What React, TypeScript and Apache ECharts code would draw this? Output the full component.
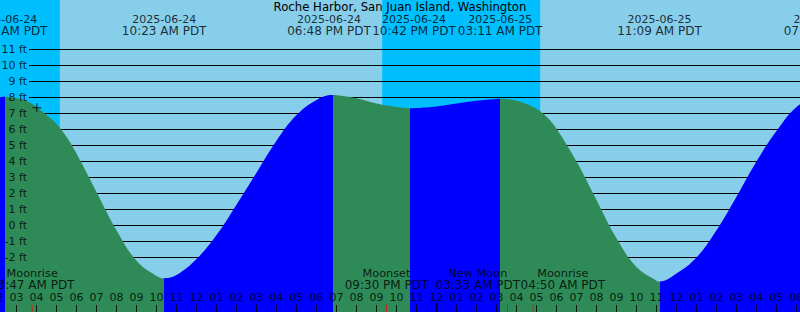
import React, { useEffect, useRef } from "react";
import * as echarts from "echarts";

const WIDTH = 800;
const HEIGHT = 312;
const FONT = "DejaVu Sans";
const STATION = "Roche Harbor, San Juan Island, Washington";
const YEAR = "2025";

// hours since 2025-06-24 00:00 PDT
const X_MIN = 2.175;
const X_MAX = 42.175;
const Y_MIN = -5.406;
const Y_MAX = 14.094;

const FLOOD = "#0000FF";
const EBB = "#2E8B57";
const DAY = "#87CEEB";
const NIGHT = "#00BFFF";

// tide curve (hours, feet)
const tideHours = [1.5, 2, 2.43, 3, 3.5, 4, 4.5, 5, 5.5, 6, 7, 8, 9, 10, 10.38, 11, 12, 13, 14, 15, 16, 17, 18, 18.8, 19, 20, 21, 22, 22.7, 23, 24, 25, 26, 27, 27.18, 28, 28.5, 29, 29.5, 30, 31, 32, 33, 34, 35, 35.15, 36, 37, 38, 39, 40, 41, 42, 43, 43.45];
const tideFeet = [7.7, 7.98, 8.05, 7.95, 7.8, 7.4, 6.9, 6.35, 5.55, 4.5, 2.1, -0.3, -2.2, -3.15, -3.3, -3.1, -2.1, -0.6, 1.3, 3.3, 5.3, 6.9, 7.85, 8.15, 8.14, 7.95, 7.62, 7.4, 7.33, 7.34, 7.44, 7.62, 7.8, 7.91, 7.92, 7.8, 7.6, 7.3, 6.8, 6.05, 4.0, 1.6, -0.8, -2.6, -3.45, -3.5, -3.0, -2.0, -0.3, 1.8, 4.0, 5.9, 7.4, 8.1, 8.2];

// high / low tides
const extremeStamps = ["06-24 02:26", "06-24 10:23", "06-24 18:48", "06-24 22:42", "06-25 03:11", "06-25 11:09", "06-25 19:27"];
const extremeKinds = ["high", "low", "high", "low", "high", "low", "high"];

// moon events
const moonEvents = ["Moonrise", "Moonset", "New Moon", "Moonrise"];
const moonStamps = ["06-24 03:47", "06-24 21:30", "06-25 03:33", "06-25 04:50"];

// night (sunset -> sunrise)
const nightStarts = ["06-24 00:00", "06-24 21:17"];
const nightEnds = ["06-24 05:10", "06-25 05:11"];

// level lines / labels (ft)
const levelTicks = [-2, -1, 0, 1, 2, 3, 4, 5, 6, 7, 8, 9, 10, 11];

// hour ticks
const hourTicks: number[] = [];
for (let h = 2; h <= 42; h++) hourTicks.push(h);

// "+" mark
const markStamp = "06-24 04:01";
const markFeet = 7.36;

const toHours = (s: string) => {
  const [md, hm] = s.split(" ");
  const day = parseInt(md.split("-")[1], 10) - 24;
  const [hh, mm] = hm.split(":").map((v) => parseInt(v, 10));
  return day * 24 + hh + mm / 60;
};
const fmtTime = (s: string) => {
  const hm = s.split(" ")[1];
  const [hh, mm] = hm.split(":").map((v) => parseInt(v, 10));
  const ap = hh < 12 ? "AM" : "PM";
  const h12 = hh % 12 === 0 ? 12 : hh % 12;
  return `${String(h12).padStart(2, "0")}:${String(mm).padStart(2, "0")} ${ap} PDT`;
};
const fmtDate = (s: string) => `${YEAR}-${s.split(" ")[0]}`;
const hourLabel = (h: number) => {
  const hh = ((h % 24) + 24) % 24;
  const h12 = hh % 12 === 0 ? 12 : hh % 12;
  return String(h12).padStart(2, "0");
};

const PX_PER_HOUR = WIDTH / (X_MAX - X_MIN);
const LABEL_W = 85;
// push overlapping adjacent labels apart symmetrically (in hours)
const spread = (hours: number[]) => {
  const out = hours.slice();
  const need = LABEL_W / PX_PER_HOUR;
  for (let i = 0; i < out.length - 1; i++) {
    const d = out[i + 1] - out[i];
    if (d < need) {
      const half = (need - d) / 2;
      out[i] -= half;
      out[i + 1] += half;
    }
  }
  return out;
};

export default function App() {
  const ref = useRef<HTMLDivElement>(null);
  useEffect(() => {
    if (!ref.current) return;
    document.body.style.margin = "0";
    const chart = echarts.init(ref.current, undefined, { renderer: "svg" });

    const exHours = extremeStamps.map(toHours);
    const exLabelHours = spread(exHours);
    const moonHours = moonStamps.map(toHours);
    const moonLabelHours = spread(moonHours);

    const pieces: any[] = [];
    pieces.push({ lt: exHours[0], color: extremeKinds[0] === "high" ? FLOOD : EBB });
    for (let i = 0; i < exHours.length - 1; i++) {
      pieces.push({ gte: exHours[i], lt: exHours[i + 1], color: extremeKinds[i + 1] === "high" ? FLOOD : EBB });
    }
    pieces.push({ gte: exHours[exHours.length - 1], color: extremeKinds[exHours.length - 1] === "high" ? EBB : FLOOD });

    const clampX = (v: number) => Math.min(X_MAX, Math.max(X_MIN, v));
    const lineStart = X_MIN + 29 / PX_PER_HOUR;

    const txt = { color: "#000", fontFamily: FONT };

    chart.setOption({
      animation: false,
      backgroundColor: DAY,
      title: {
        text: STATION,
        left: "center",
        top: 1,
        padding: 0,
        textStyle: { ...txt, fontSize: 11.7, fontWeight: "normal", lineHeight: 12 },
      },
      grid: { left: 0, right: 0, top: 0, bottom: 0, containLabel: false },
      xAxis: { type: "value", min: X_MIN, max: X_MAX, show: false },
      yAxis: { type: "value", min: Y_MIN, max: Y_MAX, show: false },
      visualMap: { type: "piecewise", show: false, dimension: 0, seriesIndex: 0, pieces },
      series: [
        {
          type: "line",
          data: tideHours.map((t, i) => [t, tideFeet[i]]),
          smooth: 0.4,
          symbol: "none",
          silent: true,
          z: 3,
          lineStyle: { width: 0 },
          areaStyle: { opacity: 1, origin: "start" },
          markArea: {
            silent: true,
            z: 1,
            itemStyle: { color: NIGHT, opacity: 1, borderWidth: 0 },
            label: { show: false },
            data: nightStarts.map((s, i) => [
              { xAxis: clampX(toHours(s)) },
              { xAxis: clampX(toHours(nightEnds[i])) },
            ]),
          },
          markLine: {
            silent: true,
            z: 2,
            symbol: ["none", "none"],
            label: { show: false },
            lineStyle: { color: "#000", width: 1, type: "solid", opacity: 1 },
            data: levelTicks.map((v) => [{ coord: [lineStart, v] }, { coord: [X_MAX, v] }]),
          },
        },
        {
          // level labels
          type: "scatter",
          clip: false,
          silent: true,
          z: 10,
          symbolSize: 0,
          itemStyle: { color: "rgba(0,0,0,0)" },
          data: levelTicks.map((v) => [X_MIN, v]),
          label: {
            show: true,
            position: [27, 0],
            align: "right",
            verticalAlign: "middle",
            ...txt,
            fontSize: 11,
            formatter: (p: any) => `${p.value[1]} ft`,
          },
        },
        {
          // hour labels
          type: "scatter",
          clip: false,
          silent: true,
          z: 10,
          symbolSize: 0,
          itemStyle: { color: "rgba(0,0,0,0)" },
          data: hourTicks.map((h) => [h, Y_MIN]),
          label: {
            show: true,
            position: "inside",
            offset: [0, -14.5],
            ...txt,
            fontSize: 11,
            formatter: (p: any) => hourLabel(p.value[0]),
          },
        },
        {
          // hour ticks
          type: "scatter",
          clip: false,
          silent: true,
          z: 10,
          symbol: "rect",
          itemStyle: { color: "#000" },
          data: hourTicks.map((h) =>
            h % 24 === 0
              ? { value: [h, Y_MIN], symbolSize: [2, 9], symbolOffset: [0, -4.5] }
              : { value: [h, Y_MIN], symbolSize: [1, 7], symbolOffset: [0, -3.5] }
          ),
        },
        {
          // moon event ticks
          type: "scatter",
          clip: false,
          silent: true,
          z: 11,
          symbol: "rect",
          symbolSize: [1, 7],
          symbolOffset: [0, -3.5],
          itemStyle: { color: "#FF0000" },
          data: moonHours.map((h) => [h, Y_MIN]),
        },
        {
          // moon event labels
          type: "scatter",
          clip: false,
          silent: true,
          z: 10,
          symbolSize: 0,
          itemStyle: { color: "rgba(0,0,0,0)" },
          data: moonLabelHours.map((h, i) => ({ value: [h, Y_MIN], name: moonEvents[i], stamp: moonStamps[i] })),
          label: {
            show: true,
            position: "inside",
            offset: [0, -33],
            ...txt,
            formatter: (p: any) => `{a|${moonEvents[p.dataIndex]}}\n{b|${fmtTime(moonStamps[p.dataIndex])}}`,
            rich: {
              a: { ...txt, fontSize: 11.3, lineHeight: 12 },
              b: { ...txt, fontSize: 12, lineHeight: 12 },
            },
          },
        },
        {
          // high/low labels
          type: "scatter",
          clip: false,
          silent: true,
          z: 10,
          symbolSize: 0,
          itemStyle: { color: "rgba(0,0,0,0)" },
          data: exLabelHours.map((h) => [h, Y_MAX]),
          label: {
            show: true,
            position: "inside",
            offset: [0, 25],
            ...txt,
            formatter: (p: any) => `{a|${fmtDate(extremeStamps[p.dataIndex])}}\n{b|${fmtTime(extremeStamps[p.dataIndex])}}`,
            rich: {
              a: { ...txt, fontSize: 11, lineHeight: 12 },
              b: { ...txt, fontSize: 12, lineHeight: 12 },
            },
          },
        },
        {
          // "+" mark
          type: "scatter",
          clip: false,
          silent: true,
          z: 12,
          symbol: "path://M0,4H9V5H0ZM4,0H5V9H4Z",
          symbolSize: [9, 9],
          itemStyle: { color: "#000" },
          data: [[toHours(markStamp), markFeet]],
        },
      ],
    });
    return () => chart.dispose();
  }, []);
  return <div ref={ref} style={{ position: "fixed", left: 0, top: 0, width: WIDTH, height: HEIGHT }} />;
}
